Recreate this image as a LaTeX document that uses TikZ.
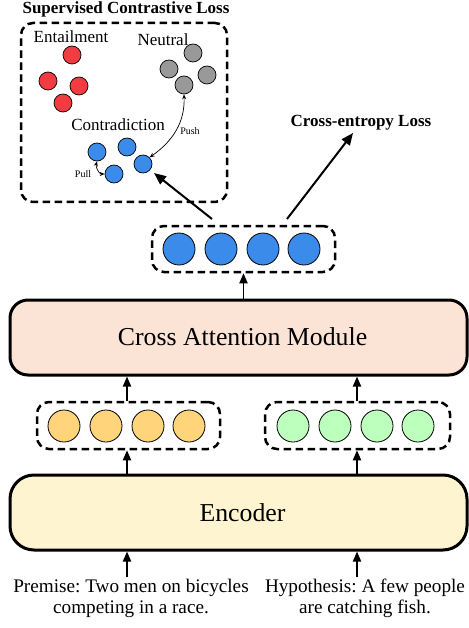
\documentclass[tikz,border=0pt]{standalone}
\usepackage{fontspec}
\setmainfont{Liberation Serif}
\usetikzlibrary{arrows.meta}
\definecolor{cblue}{HTML}{3B8BEB}
\definecolor{cred}{HTML}{F23C42}
\definecolor{cgray}{HTML}{999999}
\definecolor{cyellow}{HTML}{FFD47A}
\definecolor{cgreen}{HTML}{BDFFBD}
\definecolor{cpeach}{HTML}{FBE3D6}
\definecolor{cenc}{HTML}{FFF4D0}
\frenchspacing
\begin{document}
\begin{tikzpicture}[x=1pt,y=-1pt,
  dot/.style={circle, draw=black, line width=0.8pt, minimum size=32pt, inner sep=0pt},
  sdot/.style={circle, draw=black, line width=0.7pt, minimum size=18pt, inner sep=0pt},
  group/.style={draw=black, line width=2.5pt, dash pattern=on 7.5pt off 4.5pt, rounded corners=12pt, inner sep=0pt},
  module/.style={draw=black, line width=3pt, inner sep=0pt},
  arr/.style={-{Triangle[length=10pt,width=8pt]}, line width=1.8pt},
  bigarr/.style={-{Triangle[length=12pt,width=10pt]}, line width=2pt},
  thinarr/.style={{Stealth[length=5pt,width=4pt]}-{Stealth[length=5pt,width=4pt]}, line width=0.7pt},
  lbl/.style={inner sep=0pt, font=\fontsize{17}{20}\selectfont},
  blbl/.style={inner sep=0pt, font=\fontsize{17}{20}\selectfont\bfseries},
  slbl/.style={inner sep=0pt, font=\fontsize{10}{12}\selectfont},
  intxt/.style={inner sep=0pt, font=\fontsize{19.2}{21}\selectfont},
  modtxt/.style={inner sep=0pt, font=\fontsize{25.8}{30}\selectfont}
]
\useasboundingbox (0,0) rectangle (468,628);

% ---------- Supervised contrastive loss panel ----------
\node[blbl] (sctitle) at (126,9) {Supervised Contrastive Loss};
\node[group, minimum width=206pt, minimum height=179pt] (scbox) at (124,112.5) {};

\node[lbl] (entl) at (71,37) {Entailment};
\node[lbl] (neut) at (163,40) {Neutral};
\node[lbl] (contr) at (118,125) {Contradiction};

\node[sdot, fill=cred] (r1) at (72,55) {};
\node[sdot, fill=cred] (r2) at (48,81) {};
\node[sdot, fill=cred] (r3) at (79,86) {};
\node[sdot, fill=cred] (r4) at (63,103) {};

\node[sdot, fill=cgray] (g1) at (193,53) {};
\node[sdot, fill=cgray] (g2) at (169,69) {};
\node[sdot, fill=cgray] (g3) at (207,75) {};
\node[sdot, fill=cgray] (g4) at (184,85) {};

\node[sdot, fill=cblue] (b1) at (97,152) {};
\node[sdot, fill=cblue] (b2) at (127,147) {};
\node[sdot, fill=cblue] (b3) at (143,164) {};
\node[sdot, fill=cblue] (b4) at (114,174) {};

\draw[thinarr] (g4.south) to[out=-88,in=35] (b3.north east);
\node[slbl] (pushl) at (190,131) {Push};
\draw[thinarr] (b1.south) to[out=-105,in=180] (b4.west);
\node[slbl] (pulll) at (83,174) {Pull};

% ---------- output embeddings ----------
\node[group, minimum width=183pt, minimum height=46pt] (blueg) at (243.5,249) {};
\node[dot, fill=cblue] (o1) at (179,249) {};
\node[dot, fill=cblue] (o2) at (221,249) {};
\node[dot, fill=cblue] (o3) at (263,249) {};
\node[dot, fill=cblue] (o4) at (304,249) {};

\node[blbl] (celoss) at (361,123) {Cross-entropy Loss};
\coordinate (ceS) at (287,219);
\coordinate (ceT) at (353,133);
\coordinate (scS) at (212,219);
\coordinate (scT) at (154,173);
\draw[bigarr] (ceS) -- (ceT);
\draw[bigarr] (scS) -- (scT);

% ---------- cross attention ----------
\node[module, fill=cpeach, rounded corners=18pt, minimum width=457pt, minimum height=75pt] (cam) at (238.5,337.5) {};
\node[modtxt] (camt) at (242.5,337) {Cross Attention Module};
\draw[arr] (cam.north -| blueg.south) -- (blueg.south);

% ---------- token embeddings ----------
\node[group, minimum width=183pt, minimum height=47pt] (yg) at (128.5,425.5) {};
\node[dot, fill=cyellow] (y1) at (64,426) {};
\node[dot, fill=cyellow] (y2) at (106,426) {};
\node[dot, fill=cyellow] (y3) at (148,426) {};
\node[dot, fill=cyellow] (y4) at (189,426) {};

\node[group, minimum width=185pt, minimum height=47pt] (gg) at (357.5,425.5) {};
\node[dot, fill=cgreen] (gn1) at (293,426) {};
\node[dot, fill=cgreen] (gn2) at (335,426) {};
\node[dot, fill=cgreen] (gn3) at (377,426) {};
\node[dot, fill=cgreen] (gn4) at (418,426) {};

\coordinate (yx) at (127,0);
\coordinate (gx) at (357,0);
\draw[arr] (yg.north -| yx) -- (cam.south -| yx);
\draw[arr] (gg.north -| gx) -- (cam.south -| gx);

% ---------- encoder ----------
\node[module, fill=cenc, rounded corners=24pt, minimum width=457pt, minimum height=75pt] (enc) at (238.5,512.5) {};
\node[modtxt] (enct) at (242.5,513) {Encoder};
\draw[arr] (enc.north -| yx) -- (yg.south -| yx);
\draw[arr] (enc.north -| gx) -- (gg.south -| gx);

% ---------- inputs ----------
\node[intxt] (prem1) at (131,588) {Premise: Two men on bicycles};
\node[intxt] (prem2) at (131,609) {competing in a race.};
\node[intxt] (hyp1) at (365,588) {Hypothesis: A few people};
\node[intxt] (hyp2) at (365,609) {are catching fish.};
\coordinate (pS) at (127,577);
\coordinate (hS) at (357,577);
\draw[arr] (pS) -- (enc.south -| yx);
\draw[arr] (hS) -- (enc.south -| gx);
\end{tikzpicture}
\end{document}
